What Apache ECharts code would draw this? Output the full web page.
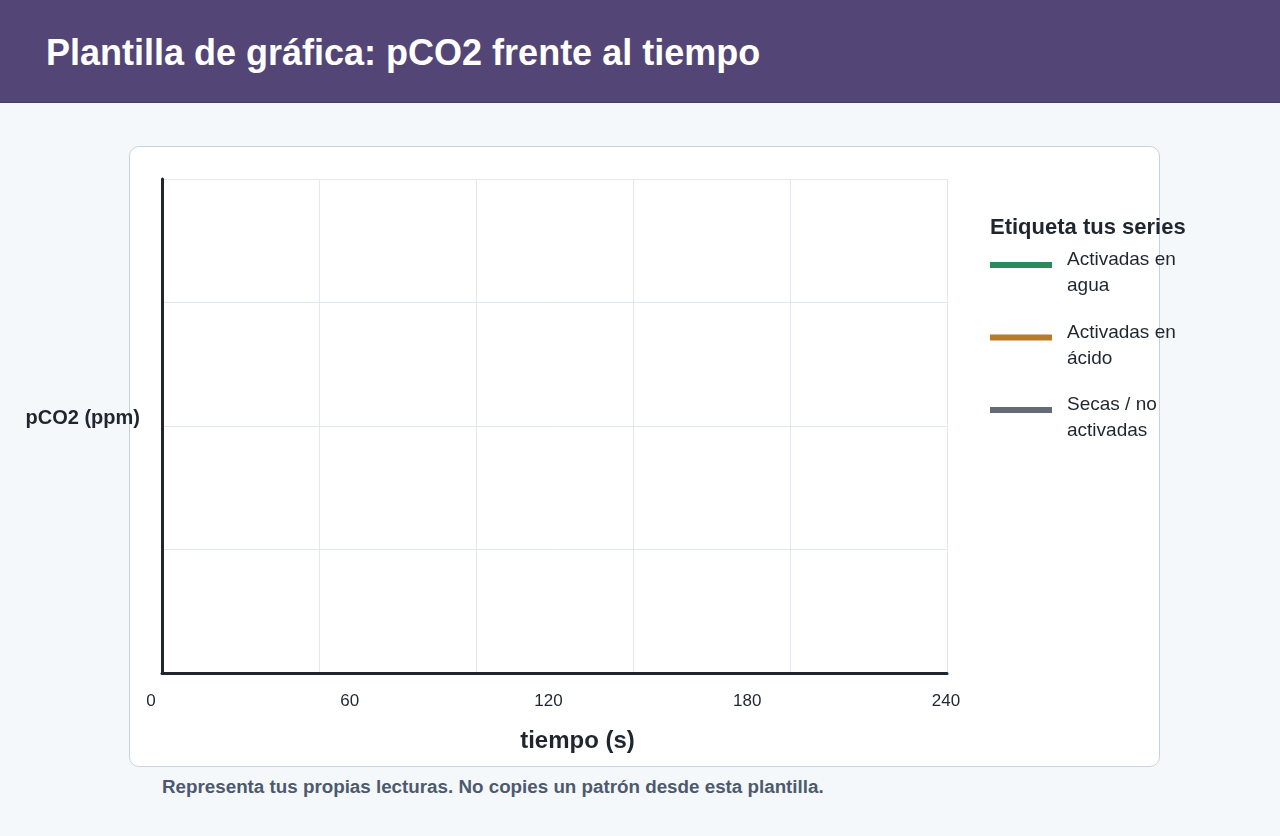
<!DOCTYPE html>
<html>
<head>
<meta charset="utf-8">
<script src="https://cdn.jsdelivr.net/npm/echarts@6/dist/echarts.min.js"></script>
<style>
	html, body {margin: 0; padding: 0; width: 1280px; height: 836px; background: #f5f8fb; font-family: "Liberation Sans", Arial, sans-serif; overflow: hidden;}
	.Head {position: absolute; left: 0; top: 0; width: 1280px; height: 102px; background: #534677; border-bottom: 1px solid #463a68;}
	.Head h1 {margin: 0; position: absolute; left: 46px; top: 33px; font-size: 36px; line-height: 40px; color: #fff; font-weight: bold;}
	.Card {position: absolute; left: 129px; top: 146px; width: 1029px; height: 619px; background: #fff; border: 1px solid #c9d3df; border-radius: 10px;}
	.Note {position: absolute; left: 162px; top: 776px; font-size: 18.8px; font-weight: bold; color: #4d5a6e;}
	#container {position: absolute; left: 0; top: 0; width: 1280px; height: 836px;}
</style>
</head>
<body>
<div class="Head"><h1>Plantilla de gráfica: pCO2 frente al tiempo</h1></div>
<div class="Card"></div>
<div class="Note">Representa tus propias lecturas. No copies un patrón desde esta plantilla.</div>
<div id="container"></div>
<script>
// plantilla vacía: las series no tienen lecturas
const SeriesNames = ['Activadas en agua', 'Activadas en ácido', 'Secas / no activadas'];
const SeriesColors = ['#2a8a5b', '#b87a2b', '#646b75'];
const SeriesData = [[], [], []];
const TimeTicks = [0, 60, 120, 180, 240];
const TimeGrid = [0, 48, 96, 144, 192, 240];
const PpmGrid = [0, 1, 2, 3, 4];

const Ink = '#1f2630';

// corta el nombre en líneas de 12 caracteres como máximo
function Wrap(name, max = 12) {
	const lines = [];
	let cur = '';
	name.split(' ').forEach(w => {
		if (cur && (cur + ' ' + w).length > max) {
			lines.push(cur);
			cur = w;
		} else {
			cur = cur ? cur + ' ' + w : w;
		}
	});
	lines.push(cur);
	return lines;
}

const option = {
	backgroundColor: 'transparent',
	textStyle: {fontFamily: '"Liberation Sans", Arial, sans-serif'},
	title: {
		text: 'Etiqueta tus series', left: 990, top: 217, padding: 0, textStyle: {
			color: Ink, fontWeight: 'bold', fontSize: 22,
		}
	}, legend: {
		orient: 'vertical', left: 990, top: 234, padding: 0, itemGap: 11,
		itemWidth: 62, itemHeight: 6, icon: 'rect', selectedMode: false,
		data: SeriesNames.map((n, i) => ({name: n, itemStyle: {color: SeriesColors[i]}})),
		formatter: function (name) {
			return '{s| }\n' + Wrap(name).map(l => '{t|' + l + '}').join('\n');
		},
		textStyle: {
			color: Ink, fontSize: 19, rich: {
				s: {fontSize: 10, lineHeight: 16, padding: [0, 0, 0, 10]},
				t: {fontSize: 19, lineHeight: 26, color: Ink, padding: [0, 0, 0, 10]},
			}
		}, itemStyle: {borderWidth: 0}
	}, grid: [{
		left: 162, right: 333, top: 179, bottom: 163, containLabel: false,
	}, {
		left: 151, right: 334, top: 179, bottom: 163, containLabel: false,
	}], xAxis: [{
		type: 'value', gridIndex: 0, min: TimeGrid[0], max: TimeGrid[TimeGrid.length - 1], interval: TimeGrid[1] - TimeGrid[0],
		axisLine: {show: true, onZero: false, lineStyle: {color: Ink, width: 3}},
		axisTick: {show: false}, axisLabel: {show: false},
		splitLine: {show: true, lineStyle: {color: '#e2e8f0', width: 1}},
		name: 'tiempo (s)', nameLocation: 'middle', nameGap: 56,
		nameTextStyle: {color: Ink, fontWeight: 'bold', fontSize: 24, padding: [0, 0, 0, 46]},
	}, {
		type: 'value', gridIndex: 1, min: TimeTicks[0], max: TimeTicks[TimeTicks.length - 1], interval: TimeTicks[1] - TimeTicks[0],
		axisLine: {show: false}, axisTick: {show: false}, splitLine: {show: false},
		axisLabel: {show: true, color: Ink, fontSize: 17, margin: 20},
	}], yAxis: [{
		type: 'value', gridIndex: 0, min: PpmGrid[0], max: PpmGrid[PpmGrid.length - 1], interval: PpmGrid[1] - PpmGrid[0],
		axisLine: {show: true, onZero: false, lineStyle: {color: Ink, width: 3}},
		axisTick: {show: false}, axisLabel: {show: false},
		splitLine: {show: true, lineStyle: {color: '#e2e8f0', width: 1}},
		name: 'pCO2 (ppm)', nameLocation: 'middle', nameRotate: 0, nameGap: 22,
		nameTextStyle: {color: Ink, fontWeight: 'bold', fontSize: 20, align: 'right', verticalAlign: 'bottom', lineHeight: 16},
	}, {
		type: 'value', gridIndex: 1, min: 0, max: 4, show: false,
	}],
	series: SeriesNames.map((n, i) => ({
		name: n, type: 'line', xAxisIndex: 0, yAxisIndex: 0, data: SeriesData[i],
		showSymbol: false, lineStyle: {color: SeriesColors[i], width: 3}, itemStyle: {color: SeriesColors[i]},
	}))
};
echarts.init(document.getElementById("container"), null, {renderer: 'canvas'}).setOption(option);
</script>
</body>
</html>
